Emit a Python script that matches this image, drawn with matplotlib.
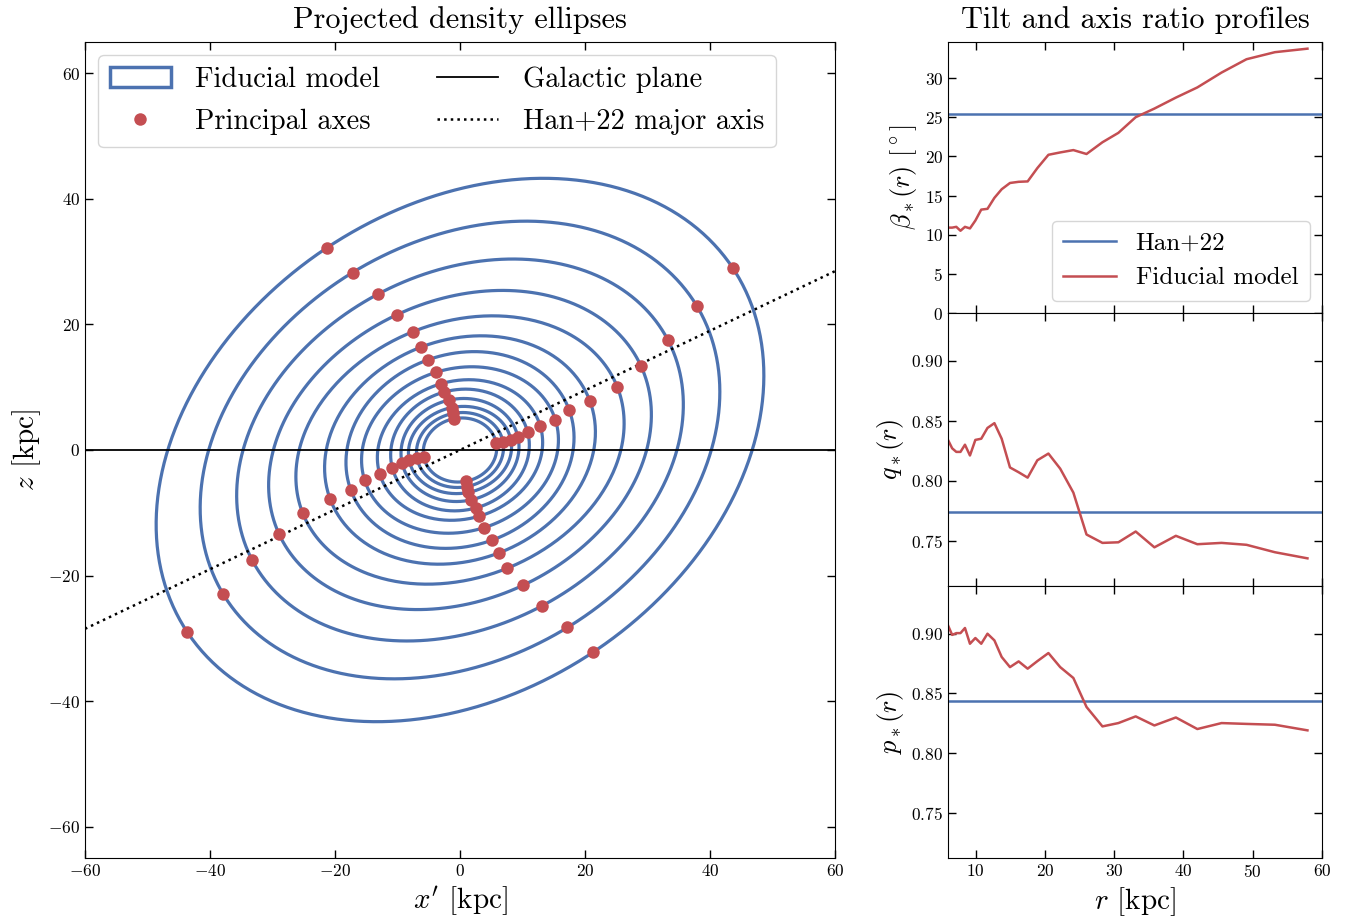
import numpy as np
import matplotlib
matplotlib.use("Agg")
import matplotlib.pyplot as plt
from matplotlib.patches import Patch
from matplotlib.lines import Line2D

plt.rcParams['font.family'] = ['cmr10', 'DejaVu Serif']
plt.rcParams['mathtext.fontset'] = 'cm'
plt.rcParams['axes.formatter.use_mathtext'] = True
plt.rcParams['axes.unicode_minus'] = True

BLUE = '#4C72B0'
RED = '#C44E52'

# ---- ellipse data (projected) ----
ell_a = [52.4, 44.3, 37.6, 31.9, 27.1, 22.2, 18.6, 16.0, 13.4, 11.2, 9.5, 8.3, 7.0, 5.9]
ell_beta = [33.5, 31.3, 27.9, 24.9, 21.9, 20.8, 19.8, 17.4, 16.4, 15.2, 12.4, 11.2, 11.1, 10.7]
ell_q = [0.737, 0.747, 0.747, 0.746, 0.749, 0.79, 0.82, 0.81, 0.82, 0.855, 0.857, 0.83, 0.847, 0.86]

# ---- profile data ----
r_prof = [6.0, 6.6, 7.2, 7.8, 8.45, 9.17, 9.95, 10.8, 11.7, 12.7, 13.75, 14.95, 16.2, 17.5,
          18.9, 20.5, 22.2, 24.1, 26.0, 28.3, 30.6, 33.1, 35.8, 38.9, 42.0, 45.5, 49.1, 53.2, 57.9]
beta_prof = [10.9, 10.9, 11.0, 10.5, 11.0, 10.8, 11.8, 13.2, 13.3, 14.7, 15.8, 16.6, 16.75, 16.8,
             18.5, 20.2, 20.5, 20.8, 20.3, 21.8, 23.0, 25.0, 26.1, 27.5, 28.8, 30.7, 32.4, 33.3, 33.75]
q_prof = [0.834, 0.827, 0.824, 0.824, 0.830, 0.821, 0.834, 0.835, 0.844, 0.848, 0.835, 0.811,
          0.807, 0.8025, 0.817, 0.8226, 0.810, 0.790, 0.755, 0.748, 0.7485, 0.7575, 0.7443,
          0.7539, 0.7469, 0.748, 0.7464, 0.7402, 0.7351]
p_prof = [0.907, 0.899, 0.9005, 0.9005, 0.9048, 0.8916, 0.8964, 0.8916, 0.900, 0.8944, 0.8805,
          0.872, 0.8768, 0.8707, 0.877, 0.8838, 0.872, 0.8629, 0.8386, 0.8223, 0.8251, 0.8307,
          0.8231, 0.8298, 0.8201, 0.8251, 0.8244, 0.8237, 0.819]

han_beta = 25.4
han_q = 0.7737
han_p = 0.8433

fig = plt.figure(figsize=(13.52, 9.23), dpi=100)

W, H = 1352, 923
def pos(x0, y0, x1, y1):
    return [x0 / W, 1 - y1 / H, (x1 - x0) / W, (y1 - y0) / H]

tick_kw = dict(direction='in', top=True, right=True, labelsize=12.5, length=6, width=1)

# ---- left panel ----
ax = fig.add_axes(pos(85, 42, 835, 858))
t = np.linspace(0, 2 * np.pi, 400)
for a, b_deg, q in zip(ell_a, ell_beta, ell_q):
    be = np.deg2rad(b_deg)
    b = q * a
    x = a * np.cos(t) * np.cos(be) - b * np.sin(t) * np.sin(be)
    y = a * np.cos(t) * np.sin(be) + b * np.sin(t) * np.cos(be)
    ax.plot(x, y, color=BLUE, lw=2.3, zorder=2)
ax.axhline(0, color='k', lw=1.3, zorder=3)
xx = np.array([-60, 60])
ax.plot(xx, np.tan(np.deg2rad(han_beta)) * xx, color='k', ls=':', lw=1.8, zorder=3)
for a, b_deg, q in zip(ell_a, ell_beta, ell_q):
    be = np.deg2rad(b_deg)
    b = q * a
    px = [a * np.cos(be), -a * np.cos(be), -b * np.sin(be), b * np.sin(be)]
    py = [a * np.sin(be), -a * np.sin(be), b * np.cos(be), -b * np.cos(be)]
    ax.plot(px, py, 'o', color=RED, ms=9, zorder=4, markeredgewidth=0)
ax.set_xlim(-60, 60)
ax.set_ylim(-65, 65)
ax.set_xticks(np.arange(-60, 61, 20))
ax.set_yticks(np.arange(-60, 61, 20))
ax.tick_params(**tick_kw)
ax.set_xlabel(r"$x'$ [kpc]", fontsize=21)
ax.set_ylabel(r"$z$ [kpc]", fontsize=21)
ax.set_title("Projected density ellipses", fontsize=21.8, pad=10)
handles = [Patch(facecolor='none', edgecolor=BLUE, lw=2.5),
           Line2D([], [], ls='none', marker='o', color=RED, ms=9, markeredgewidth=0),
           Line2D([], [], color='k', lw=1.3),
           Line2D([], [], color='k', ls=':', lw=1.8)]
labels = ["Fiducial model", "Principal axes", "Galactic plane", "Han+22 major axis"]
ax.legend(handles, labels, ncol=2, loc='upper left', fontsize=20.5, handlelength=2.15,
          handletextpad=0.85, columnspacing=2.0, borderpad=0.42, labelspacing=0.55,
          borderaxespad=0.45)

# ---- right panels ----
axb = fig.add_axes(pos(948, 42, 1322, 313))
axq = fig.add_axes(pos(948, 313, 1322, 586), sharex=axb)
axp = fig.add_axes(pos(948, 586, 1322, 858), sharex=axb, sharey=axq)

axb.axhline(han_beta, color=BLUE, lw=1.8, label='Han+22')
axb.plot(r_prof, beta_prof, color=RED, lw=1.8, label='Fiducial model')
axb.set_ylim(0, 34.6)
axb.set_yticks(np.arange(0, 31, 5))
axb.set_ylabel(r"$\beta_*(r)$ [$^\circ$]", fontsize=19)
axb.set_title("Tilt and axis ratio profiles", fontsize=21.8, pad=10)
axb.legend(loc='lower right', fontsize=18, handlelength=2.1, borderpad=0.45,
           labelspacing=0.5, borderaxespad=0.5)

axq.axhline(han_q, color=BLUE, lw=1.8)
axq.plot(r_prof, q_prof, color=RED, lw=1.8)
axq.set_ylabel(r"$q_*(r)$", fontsize=19)

axp.axhline(han_p, color=BLUE, lw=1.8)
axp.plot(r_prof, p_prof, color=RED, lw=1.8)
axp.set_ylabel(r"$p_*(r)$", fontsize=19)
axp.set_ylim(0.712, 0.94)
axp.set_yticks([0.75, 0.80, 0.85, 0.90])
axp.set_xlim(6, 60)
axp.set_xticks(np.arange(10, 61, 10))
axp.set_xlabel(r"$r$ [kpc]", fontsize=21)

for a_ in (axb, axq, axp):
    a_.tick_params(**tick_kw)
for a_ in (axb, axq):
    plt.setp(a_.get_xticklabels(), visible=False)

fig.savefig("out.png", dpi=100)
